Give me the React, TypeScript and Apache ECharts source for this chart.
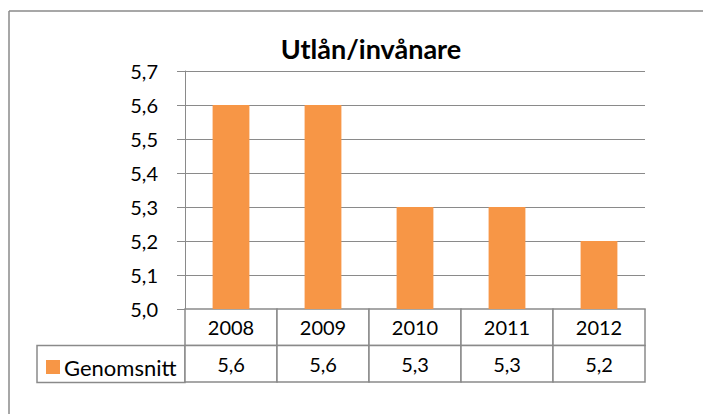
import React, { useEffect, useRef } from "react";
import * as echarts from "echarts";

const title = "Utlån/invånare";
const seriesName = "Genomsnitt";
const years = ["2008", "2009", "2010", "2011", "2012"];
const values = [5.6, 5.6, 5.3, 5.3, 5.2];
const yMin = 5.0;
const yMax = 5.7;
const yStep = 0.1;
const tableRows = ["values", "years"];

const FONT = "Lato";
const GRAY = "#8a8a8a";
const ORANGE = "#F79646";
const fmt = (v: number) => v.toFixed(1).replace(".", ",");

export default function App() {
  const ref = useRef<HTMLDivElement>(null);
  useEffect(() => {
    if (!ref.current) return;
    document.documentElement.style.overflow = "hidden";
    document.body.style.overflow = "hidden";
    document.body.style.margin = "0";
    const chart = echarts.init(ref.current, undefined, { renderer: "svg" });
    const cellData: any[] = [];
    years.forEach((y, i) => {
      cellData.push({ value: [y, "years"], name: y, label: y });
      cellData.push({ value: [y, "values"], name: y, label: fmt(values[i]) });
    });
    chart.setOption({
      animation: false,
      backgroundColor: "#ffffff",
      textStyle: { fontFamily: FONT },
      title: {
        text: title,
        left: 366,
        top: 30,
        textAlign: "center",
        textStyle: { fontFamily: FONT, fontWeight: "bold", fontSize: 27, color: "#000" },
      },
      legend: {
        data: [seriesName],
        left: 41,
        top: 351,
        icon: "rect",
        itemWidth: 14,
        itemHeight: 14,
        itemGap: 4,
        selectedMode: false,
        textStyle: { fontFamily: FONT, fontSize: 22, color: "#000", padding: [0, 0, 0, -1] },
      },
      grid: [
        { left: 185, width: 460, top: 71, height: 238 },
        { left: 185, width: 460, top: 309, height: 73 },
      ],
      xAxis: [
        {
          type: "category",
          gridIndex: 0,
          data: years,
          axisLine: { show: true, lineStyle: { color: GRAY, width: 1 } },
          axisTick: { show: false },
          axisLabel: { show: false },
        },
        {
          type: "category",
          gridIndex: 1,
          data: years,
          show: false,
        },
      ],
      yAxis: [
        {
          type: "value",
          gridIndex: 0,
          min: yMin,
          max: yMax,
          interval: yStep,
          axisLine: { show: true, lineStyle: { color: GRAY, width: 1 } },
          axisTick: { show: true, length: 8, lineStyle: { color: GRAY } },
          splitLine: { show: true, lineStyle: { color: GRAY, width: 1 } },
          axisLabel: {
            formatter: (v: number) => fmt(v),
            margin: 27,
            fontFamily: FONT,
            fontSize: 20,
            color: "#000",
          },
        },
        {
          type: "category",
          gridIndex: 1,
          data: tableRows,
          show: false,
        },
      ],
      graphic: [
        {
          type: "line",
          shape: { x1: 9, y1: 11, x2: 703, y2: 11 },
          style: { stroke: GRAY, lineWidth: 1.5 },
          silent: true,
        },
        {
          type: "line",
          shape: { x1: 9, y1: 11, x2: 9, y2: 414 },
          style: { stroke: GRAY, lineWidth: 1.5 },
          silent: true,
        },
        {
          type: "rect",
          shape: { x: 37, y: 345.5, width: 148, height: 37 },
          style: { fill: "none", stroke: GRAY, lineWidth: 1.5 },
          silent: true,
        },
      ],
      series: [
        {
          name: seriesName,
          type: "bar",
          xAxisIndex: 0,
          yAxisIndex: 0,
          data: values,
          barWidth: "40%",
          itemStyle: { color: ORANGE },
        },
        {
          type: "custom",
          xAxisIndex: 1,
          yAxisIndex: 1,
          data: cellData,
          renderItem: (params: any, api: any) => {
            const c = api.coord([api.value(0), api.value(1)]);
            const s = api.size([1, 1]);
            const text = cellData[params.dataIndex].label;
            return {
              type: "group",
              children: [
                {
                  type: "rect",
                  shape: { x: c[0] - s[0] / 2, y: c[1] - s[1] / 2, width: s[0], height: s[1] },
                  style: { fill: "#fff", stroke: GRAY, lineWidth: 1.5 },
                },
                {
                  type: "text",
                  x: c[0],
                  y: c[1],
                  style: {
                    text,
                    align: "center",
                    verticalAlign: "middle",
                    fontFamily: FONT,
                    fontSize: 20,
                    fill: "#000",
                  },
                },
              ],
            };
          },
        },
      ],
    });
    return () => chart.dispose();
  }, []);
  return (
    <div
      ref={ref}
      style={{ width: 703, height: 414, position: "fixed", left: 0, top: 0, overflow: "hidden" }}
    />
  );
}
